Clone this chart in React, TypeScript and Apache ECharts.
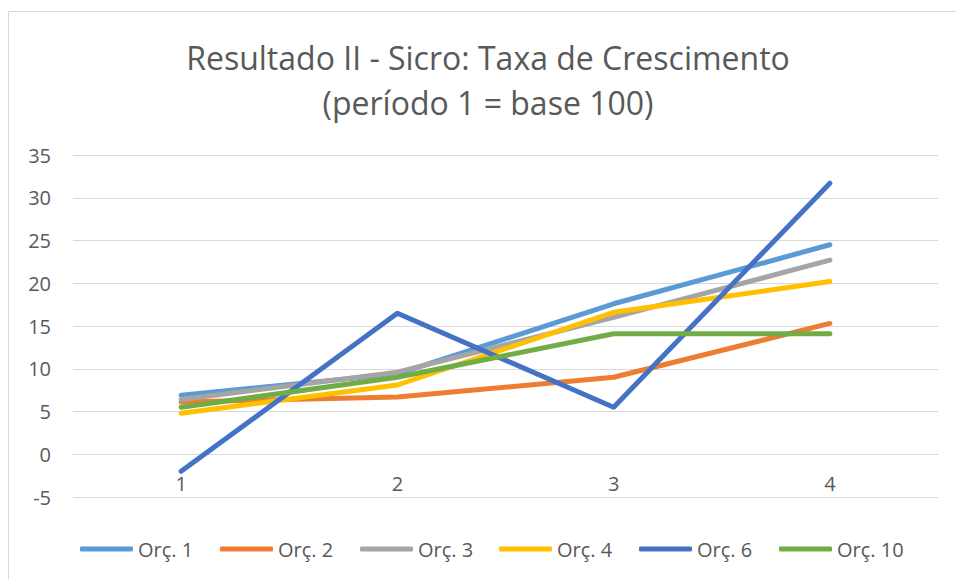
import React, { useEffect, useRef } from "react";
import * as echarts from "echarts";

const categories = ["1", "2", "3", "4"];
const seriesNames = ["Orç. 1", "Orç. 2", "Orç. 3", "Orç. 4", "Orç. 6", "Orç. 10"];
const orc1 = [6.9, 9.4, 17.6, 24.5];
const orc2 = [6.1, 6.7, 9.0, 15.3];
const orc3 = [6.4, 9.6, 16.0, 22.7];
const orc4 = [4.8, 8.1, 16.6, 20.2];
const orc6 = [-2.0, 16.5, 5.5, 31.7];
const orc10 = [5.5, 9.0, 14.1, 14.1];
const seriesValues = [orc1, orc2, orc3, orc4, orc6, orc10];
const colors = ["#5B9BD5", "#ED7D31", "#A5A5A5", "#FFC000", "#4472C4", "#70AD47"];
const titleLines = ["Resultado II - Sicro: Taxa de Crescimento", "(período 1 = base 100)"];

const FONT = "Open Sans";
const LEGEND_LEFT = 80;
const LEGEND_STEP = 139.8;

export default function App() {
  const ref = useRef<HTMLDivElement>(null);
  useEffect(() => {
    if (!ref.current) return;
    const chart = echarts.init(ref.current, null, { renderer: "svg" });
    chart.setOption({
      animation: false,
      backgroundColor: "#ffffff",
      color: colors,
      graphic: [
        {
          type: "rect",
          shape: { x: 8.5, y: 11.5, width: 1000, height: 1000 },
          style: { fill: "none", stroke: "#d9d9d9", lineWidth: 1 },
          silent: true,
        },
        {
          type: "text",
          x: 488,
          y: 57,
          style: {
            text: titleLines[0],
            fill: "#595959",
            font: `32px "${FONT}"`,
            textAlign: "center",
            textVerticalAlign: "middle",
          },
        },
        {
          type: "text",
          x: 488,
          y: 102,
          style: {
            text: titleLines[1],
            fill: "#595959",
            font: `32px "${FONT}"`,
            textAlign: "center",
            textVerticalAlign: "middle",
          },
        },
      ],
      legend: seriesNames.map((name, i) => ({
        data: [name],
        left: Math.round(LEGEND_LEFT + i * LEGEND_STEP),
        top: 539,
        padding: 0,
        itemWidth: 53,
        itemHeight: 5,
        itemGap: 0,
        icon: "roundRect",
        textStyle: { color: "#595959", fontSize: 20, fontFamily: FONT },
      })),
      grid: { left: 73, right: 18, top: 155, bottom: 82, containLabel: false },
      xAxis: {
        type: "category",
        data: categories,
        boundaryGap: true,
        axisLine: { onZero: true, lineStyle: { color: "#d9d9d9", width: 1 } },
        axisTick: { show: false },
        axisLabel: { color: "#595959", fontSize: 20, fontFamily: FONT, margin: -24 },
        splitLine: { show: false },
      },
      yAxis: {
        type: "value",
        min: -5,
        max: 35,
        interval: 5,
        axisLine: { show: false },
        axisTick: { show: false },
        axisLabel: { color: "#595959", fontSize: 20, fontFamily: FONT, margin: 22 },
        splitLine: { lineStyle: { color: "#d9d9d9", width: 1 } },
      },
      series: seriesNames.map((name, i) => ({
        name,
        type: "line",
        data: seriesValues[i],
        symbol: "none",
        lineStyle: { width: 5, color: colors[i], cap: "round", join: "round" },
        itemStyle: { color: colors[i] },
      })),
    });
    return () => chart.dispose();
  }, []);
  return (
    <div
      ref={ref}
      style={{ position: "fixed", left: 0, top: 0, width: 956, height: 579 }}
    />
  );
}
